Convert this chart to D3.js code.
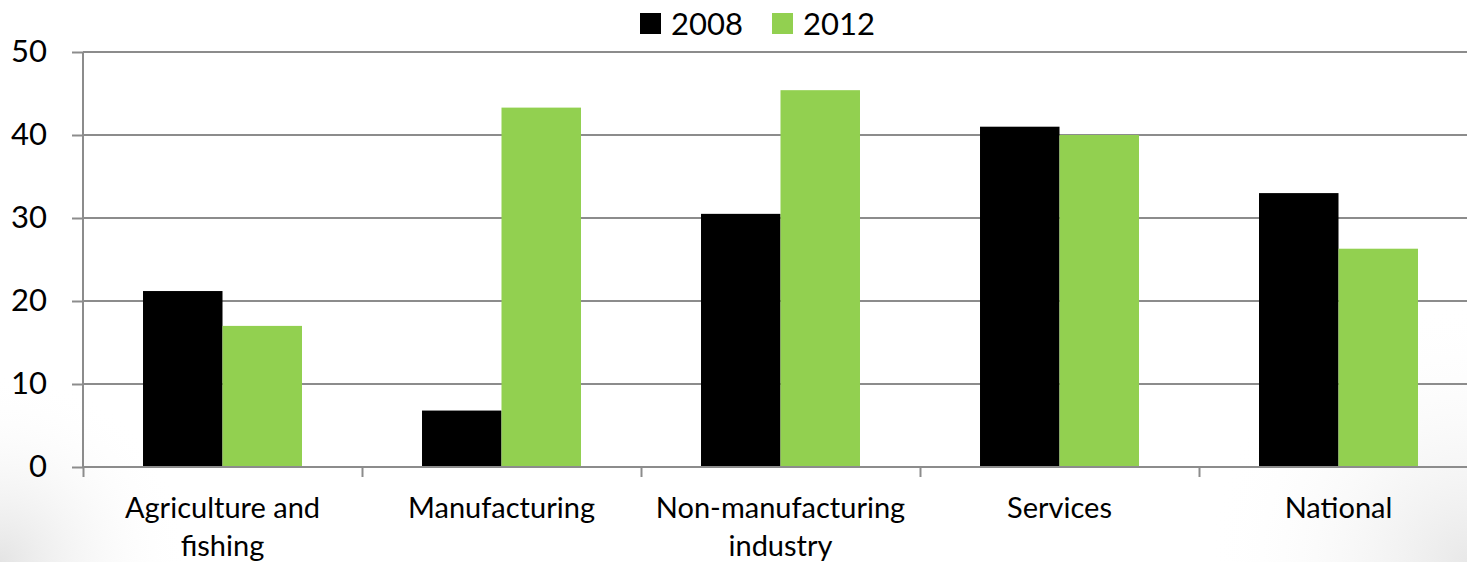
<!DOCTYPE html>
<html>
<head>
<meta charset="utf-8">
<script src="https://cdn.jsdelivr.net/npm/d3@7"></script>
<style>
  html, body { margin: 0; padding: 0; background: #fff; }
  svg { display: block; font-family: Lato, 'Open Sans', sans-serif; }
</style>
</head>
<body>
<div id="chart"></div>
<script>
const categories = ['Agriculture and fishing', 'Manufacturing', 'Non-manufacturing industry', 'Services', 'National']
const labelLines = [['Agriculture and', 'fishing'], ['Manufacturing'], ['Non-manufacturing', 'industry'], ['Services'], ['National']]
const seriesNames = ['2008', '2012']
const values2008 = [21.2, 6.8, 30.5, 41.0, 33.0]
const values2012 = [17.0, 43.3, 45.4, 40.0, 26.3]
const yTicks = [0, 10, 20, 30, 40, 50]
const colors = ['#000000', '#92d050']

const width = 1467,
  height = 562
// plot runs past the right edge of the picture (it is cropped there)
const margin = { left: 83, right: -11, top: 52, bottom: 95 }

const svg = d3
  .select('#chart')
  .append('svg')
  .attr('width', width)
  .attr('height', height)

// soft grey corner shading
const defs = svg.append('defs')
const gl = defs.append('radialGradient').attr('id', 'shadeL')
  .attr('gradientUnits', 'userSpaceOnUse').attr('cx', 0).attr('cy', height).attr('r', 190)
gl.append('stop').attr('offset', '0%').attr('stop-color', '#e4e4e4')
gl.append('stop').attr('offset', '100%').attr('stop-color', '#ffffff').attr('stop-opacity', 0)
const gr = defs.append('radialGradient').attr('id', 'shadeR')
  .attr('gradientUnits', 'userSpaceOnUse').attr('cx', width).attr('cy', height).attr('r', 260)
gr.append('stop').attr('offset', '0%').attr('stop-color', '#e8e8e8')
gr.append('stop').attr('offset', '100%').attr('stop-color', '#ffffff').attr('stop-opacity', 0)
svg.append('rect').attr('width', width).attr('height', height).attr('fill', 'url(#shadeL)')
svg.append('rect').attr('width', width).attr('height', height).attr('fill', 'url(#shadeR)')

const x0 = d3
  .scaleBand()
  .domain(categories)
  .range([margin.left, width - margin.right])

const x1 = d3
  .scaleBand()
  .domain(seriesNames)
  .range([0, x0.bandwidth()])
  .paddingOuter(0.755)

const xEdge = d3
  .scaleLinear()
  .domain([0, categories.length])
  .range([margin.left, width - margin.right])

const y = d3
  .scaleLinear()
  .domain([0, 50])
  .range([height - margin.bottom, margin.top])

// gridlines
svg
  .append('g')
  .selectAll('line')
  .data(yTicks)
  .enter()
  .append('line')
  .attr('x1', margin.left)
  .attr('x2', width - margin.right)
  .attr('y1', d => y(d))
  .attr('y2', d => y(d))
  .attr('stroke', '#8c8c8c')
  .attr('stroke-width', 2)

// bars
const data = categories.map((c, i) => ({ name: c, values: [values2008[i], values2012[i]] }))
svg
  .append('g')
  .selectAll('g')
  .data(data)
  .enter()
  .append('g')
  .attr('transform', d => `translate(${x0(d.name)},0)`)
  .selectAll('rect')
  .data(d => d.values.map((v, j) => ({ key: seriesNames[j], value: v, j })))
  .enter()
  .append('rect')
  .attr('x', d => x1(d.key))
  .attr('width', x1.bandwidth())
  .attr('y', d => y(d.value))
  .attr('height', d => y(0) - y(d.value))
  .attr('fill', d => colors[d.j])

// y axis
const yAxis = svg
  .append('g')
  .attr('transform', `translate(${margin.left},0)`)
  .call(d3.axisLeft(y).tickValues(yTicks).tickSize(11).tickPadding(25))
yAxis.selectAll('line').attr('stroke', '#8c8c8c').attr('stroke-width', 2)
yAxis.select('.domain').attr('stroke', '#8c8c8c').attr('stroke-width', 2).attr('d', `M0,${y(0)}V${y(50)}`)
yAxis.selectAll('text').attr('font-size', 31).attr('fill', '#000').attr('font-family', 'Lato, sans-serif')

// x axis (ticks at category boundaries)
const xAxis = svg
  .append('g')
  .attr('transform', `translate(0,${y(0)})`)
  .call(d3.axisBottom(xEdge).tickValues(d3.range(categories.length + 1)).tickSize(10).tickFormat(''))
xAxis.selectAll('line').attr('stroke', '#8c8c8c').attr('stroke-width', 2)
xAxis.select('.domain').attr('stroke', '#8c8c8c').attr('stroke-width', 2).attr('d', `M${margin.left},0H${width - margin.right}`)

// category labels
const labels = svg
  .append('g')
  .selectAll('text')
  .data(categories)
  .enter()
  .append('text')
  .attr('x', d => x0(d) + x0.bandwidth() / 2)
  .attr('y', 518)
  .attr('text-anchor', 'middle')
  .attr('font-size', 29)
  .attr('fill', '#000')
labels
  .selectAll('tspan')
  .data((d, i) => labelLines[i])
  .enter()
  .append('tspan')
  .attr('x', function() { return d3.select(this.parentNode).attr('x') })
  .attr('dy', (d, i) => (i === 0 ? 0 : 38))
  .text(d => d)

// legend
const legend = svg.append('g').attr('transform', 'translate(640,0)')
const items = legend
  .selectAll('g')
  .data(seriesNames)
  .enter()
  .append('g')
  .attr('transform', (d, i) => `translate(${i * 132},0)`)
items
  .append('rect')
  .attr('y', 13)
  .attr('width', 21)
  .attr('height', 21)
  .attr('fill', (d, i) => colors[i])
items
  .append('text')
  .attr('x', 31)
  .attr('y', 35)
  .attr('font-size', 31)
  .attr('fill', '#000')
  .text(d => d)
</script>
</body>
</html>
